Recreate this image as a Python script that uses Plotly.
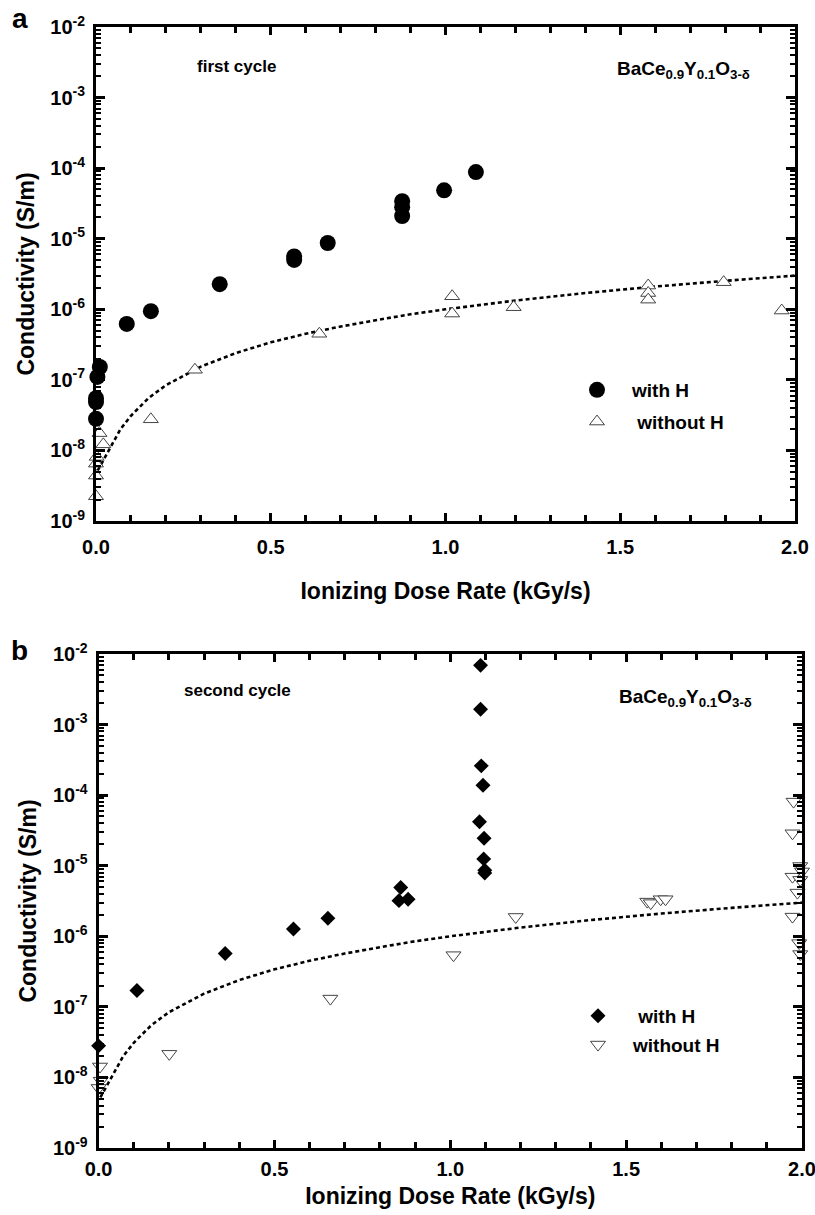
import plotly.graph_objects as go

# ---------------- data ----------------
# panel a: first cycle
a_withH_x = [0.0, 0.0, 0.0, 0.004, 0.011, 0.088, 0.157, 0.354, 0.567, 0.567, 0.663, 0.876, 0.876, 0.876, 0.996, 1.087]
a_withH_y = [2.8e-8, 4.85e-8, 5.5e-8, 1.1e-7, 1.52e-7, 6.2e-7, 9.4e-7, 2.27e-6, 5.6e-6, 5.0e-6, 8.7e-6, 3.4e-5, 2.8e-5, 2.1e-5, 4.85e-5, 8.8e-5]
a_woH_x = [0.0, 0.0, 0.0, 0.002, 0.01, 0.021, 0.157, 0.283, 0.639, 1.019, 1.019, 1.195, 1.58, 1.58, 1.58, 1.796, 1.962]
a_woH_y = [2.24e-9, 4.4e-9, 6.5e-9, 8.1e-9, 1.76e-8, 1.22e-8, 2.76e-8, 1.39e-7, 4.5e-7, 1.53e-6, 8.7e-7, 1.07e-6, 2.17e-6, 1.7e-6, 1.37e-6, 2.42e-6, 9.6e-7]

# panel b: second cycle
b_withH_x = [0.0, 0.109, 0.36, 0.554, 0.652, 0.854, 0.859, 0.88, 1.086, 1.086, 1.088, 1.093, 1.083, 1.096, 1.095, 1.098, 1.098]
b_withH_y = [2.8e-8, 1.7e-7, 5.7e-7, 1.27e-6, 1.8e-6, 3.2e-6, 4.9e-6, 3.35e-6, 6.9e-3, 1.65e-3, 2.6e-4, 1.38e-4, 4.2e-5, 2.45e-5, 1.25e-5, 8.6e-6, 7.9e-6]
b_woH_x = [0.004, 0.006, 0.0, 0.201, 0.659, 1.009, 1.186, 1.560, 1.570, 1.598, 1.612,
           1.976, 1.973, 1.995, 1.973, 2.0, 1.995, 1.987, 1.973, 1.992, 1.995]
b_woH_y = [1.43e-8, 9.0e-9, 7.1e-9, 2.16e-8, 1.31e-7, 5.4e-7, 1.88e-6, 3.1e-6, 2.95e-6, 3.35e-6, 3.35e-6,
           8.1e-5, 2.88e-5, 9.9e-6, 7.0e-6, 8.3e-6, 6.3e-6, 4.16e-6, 1.9e-6, 8.0e-7, 5.6e-7]

# dotted fit curve (same in both panels)
fit_x = [0.005, 0.02, 0.04, 0.07, 0.1, 0.15, 0.2, 0.3, 0.4, 0.5, 0.6, 0.7, 0.8, 0.9, 1.0, 1.2, 1.4, 1.6, 1.8, 2.0]
fit_y = [5.2e-9, 7.1e-9, 1.12e-8, 2.0e-8, 3.1e-8, 5.5e-8, 8.4e-8, 1.54e-7, 2.4e-7, 3.4e-7, 4.5e-7, 5.7e-7,
         7.0e-7, 8.5e-7, 1.0e-6, 1.33e-6, 1.70e-6, 2.10e-6, 2.53e-6, 3.0e-6]

y_tickvals = [1e-9, 1e-8, 1e-7, 1e-6, 1e-5, 1e-4, 1e-3, 1e-2]
y_ticktext = ["10<sup>-9</sup>", "10<sup>-8</sup>", "10<sup>-7</sup>", "10<sup>-6</sup>",
              "10<sup>-5</sup>", "10<sup>-4</sup>", "10<sup>-3</sup>", "10<sup>-2</sup>"]
x_tickvals = [0.0, 0.5, 1.0, 1.5, 2.0]
x_ticktext = ["0.0", "0.5", "1.0", "1.5", "2.0"]

FONT = "Liberation Sans, Arial, sans-serif"
W, H = 815, 1215

fig = go.Figure()

def px_x(p):
    return p / W

def px_y(p):
    return 1 - p / H

# ---- panel a traces ----
fig.add_trace(go.Scatter(x=fit_x, y=fit_y, mode="lines", xaxis="x", yaxis="y",
                         line=dict(color="black", width=2.6, dash="4px,3px"),
                         showlegend=False, hoverinfo="skip"))
fig.add_trace(go.Scatter(x=a_withH_x, y=a_withH_y, mode="markers", name="with H",
                         xaxis="x", yaxis="y", legend="legend", cliponaxis=False,
                         legendgroup="a1",
                         marker=dict(symbol="circle", size=16, color="black")))
fig.add_trace(go.Scatter(x=a_woH_x, y=a_woH_y, mode="markers", name="\u00a0without H",
                         xaxis="x", yaxis="y", legend="legend", cliponaxis=False,
                         legendgroup="a2",
                         marker=dict(symbol="triangle-up", size=13, color="white",
                                     line=dict(color="#444", width=1))))

# ---- panel b traces ----
fig.add_trace(go.Scatter(x=fit_x, y=fit_y, mode="lines", xaxis="x2", yaxis="y2",
                         line=dict(color="black", width=2.6, dash="4px,3px"),
                         showlegend=False, hoverinfo="skip"))
fig.add_trace(go.Scatter(x=b_withH_x, y=b_withH_y, mode="markers", name="\u00a0with H",
                         xaxis="x2", yaxis="y2", legend="legend2", cliponaxis=False,
                         legendgroup="b1",
                         marker=dict(symbol="diamond", size=11.5, color="black")))
fig.add_trace(go.Scatter(x=b_woH_x, y=b_woH_y, mode="markers", name="without H",
                         xaxis="x2", yaxis="y2", legend="legend2", cliponaxis=False,
                         legendgroup="b2",
                         marker=dict(symbol="triangle-down", size=13, color="white",
                                     line=dict(color="#444", width=1))))

tickfont = dict(family=FONT, size=20, color="black", weight="bold")
titlefont = dict(family=FONT, size=23, color="black", weight="bold")

def xaxis(domain, anchor, standoff, labstand):
    return dict(domain=domain, anchor=anchor, range=[0, 2], showline=True, linecolor="black",
                linewidth=3, mirror="ticks", ticks="inside", ticklen=8, tickwidth=2.5,
                tickcolor="black", tickvals=x_tickvals, ticktext=x_ticktext, tickfont=tickfont,
                ticklabelstandoff=labstand, ticklabeloverflow="allow",
                showgrid=False, zeroline=False, automargin=False,
                minor=dict(ticks="inside", dtick=0.1, tick0=0, ticklen=6, tickwidth=2.5,
                           tickcolor="black", showgrid=False),
                title=dict(text="Ionizing Dose Rate (kGy/s)", font=titlefont, standoff=standoff))

def yaxis(domain, anchor):
    return dict(domain=domain, anchor=anchor, type="log", range=[-9, -2], showline=True,
                linecolor="black", linewidth=3, mirror="ticks", ticks="inside", ticklen=9,
                tickwidth=2.5, tickcolor="black", tickvals=y_tickvals, ticktext=y_ticktext,
                tickfont=tickfont, ticklabelstandoff=4, ticklabeloverflow="allow",
                showgrid=False, zeroline=False, automargin=False,
                minor=dict(ticks="inside", dtick="D1", ticklen=5, tickwidth=2,
                           tickcolor="black", showgrid=False),
                title=dict(text="Conductivity (S/m)", font=titlefont, standoff=10))

legfont = dict(family=FONT, size=19, color="black", weight="bold")

fig.update_layout(
    width=W, height=H, paper_bgcolor="white", plot_bgcolor="white",
    margin=dict(l=0, r=0, t=0, b=0, autoexpand=False),
    font=dict(family=FONT, color="black"),
    xaxis=xaxis([px_x(96), px_x(795)], "y", 26, 6),
    yaxis=yaxis([px_y(521), px_y(27)], "x"),
    xaxis2=xaxis([px_x(98.6), px_x(802)], "y2", 9, 1),
    yaxis2=yaxis([px_y(1148), px_y(654)], "x2"),
    legend=dict(x=px_x(562), y=px_y(371), xanchor="left", yanchor="top",
                bgcolor="rgba(0,0,0,0)", font=legfont, itemwidth=60,
                traceorder="grouped", tracegroupgap=4),
    legend2=dict(x=px_x(563), y=px_y(997), xanchor="left", yanchor="top",
                 bgcolor="rgba(0,0,0,0)", font=legfont, itemwidth=60,
                 traceorder="grouped", tracegroupgap=1),
    showlegend=True,
)

cyc_font = dict(family=FONT, size=17, color="black", weight="bold")
form_font = dict(family=FONT, size=19, color="black", weight="bold")
lab_font = dict(family=FONT, size=28, color="black", weight="bold")
formula = "BaCe<sub>0.9</sub>Y<sub>0.1</sub>O<sub>3-δ</sub>"
annotations = [
    dict(text="a", x=px_x(19.5), y=px_y(18), xref="paper", yref="paper", showarrow=False,
         xanchor="center", yanchor="middle", font=lab_font),
    dict(text="b", x=px_x(19.5), y=px_y(650), xref="paper", yref="paper", showarrow=False,
         xanchor="center", yanchor="middle", font=lab_font),
    dict(text="first cycle", x=px_x(236), y=px_y(66), xref="paper", yref="paper",
         xanchor="center", yanchor="middle", showarrow=False, font=cyc_font),
    dict(text=formula, x=px_x(683), y=px_y(70), xref="paper", yref="paper",
         xanchor="center", yanchor="middle", showarrow=False, font=form_font),
    dict(text="second cycle", x=px_x(237), y=px_y(690), xref="paper", yref="paper",
         xanchor="center", yanchor="middle", showarrow=False, font=cyc_font),
    dict(text=formula, x=px_x(685), y=px_y(698), xref="paper", yref="paper",
         xanchor="center", yanchor="middle", showarrow=False, font=form_font),
]
fig.update_layout(annotations=annotations)

fig.write_html("out.html", config={"displayModeBar": False},
               post_script="document.body.style.margin='0';")
